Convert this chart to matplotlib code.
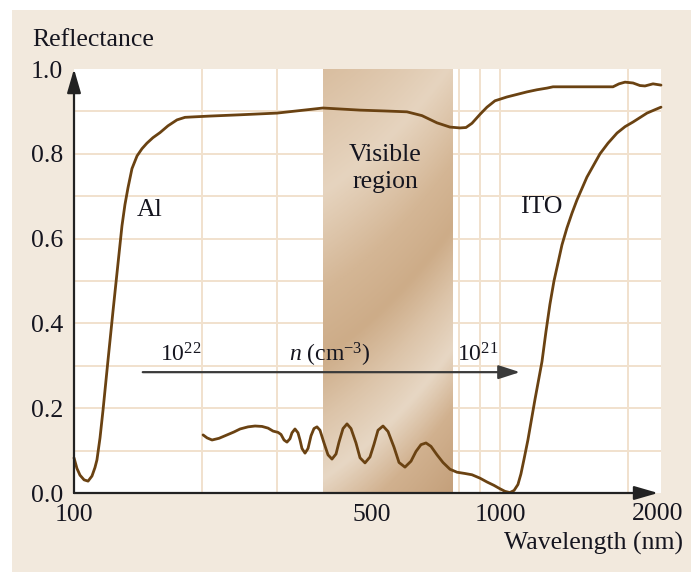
import numpy as np
import matplotlib
matplotlib.use('Agg')
import matplotlib.pyplot as plt
from matplotlib.colors import LinearSegmentedColormap
from matplotlib.patches import Rectangle
from matplotlib.ticker import NullLocator

# Reflectance of an Al mirror and an ITO film vs wavelength (nm)
al_wl = [100, 101.6, 103.3, 105.6, 107.9, 110.2, 112.0, 113.2, 115.1, 117.0,
         120.2, 123.5, 126.2, 129.6, 131.7, 133.9, 136.8, 140.6, 144.4, 148.3,
         153.2, 159.2, 166.2, 174.5, 182.2, 190.3, 208.6, 245.4, 299.6, 339.3,
         384.1, 469.3, 537.2, 604.8, 656.1, 711.5, 763.2, 805.6, 832.2, 859.6,
         897.6, 932.2, 973.3, 1038, 1096, 1157, 1221, 1290, 1332, 1541,
         1842, 1903, 1966, 2053, 2131, 2190, 2287, 2388]
al_r = [0.083, 0.058, 0.042, 0.031, 0.028, 0.040, 0.060, 0.078, 0.130, 0.196,
        0.314, 0.430, 0.520, 0.630, 0.680, 0.720, 0.765, 0.795, 0.812, 0.825,
        0.838, 0.850, 0.866, 0.880, 0.886, 0.887, 0.889, 0.892, 0.896, 0.902,
        0.908, 0.903, 0.901, 0.899, 0.890, 0.873, 0.863, 0.861, 0.862, 0.872,
        0.893, 0.910, 0.925, 0.934, 0.940, 0.946, 0.951, 0.955, 0.958, 0.958,
        0.958, 0.965, 0.969, 0.967, 0.961, 0.960, 0.965, 0.962]

ito_wl = [200.9, 205.3, 210.9, 219.0, 228.7, 237.5, 245.4, 256.2, 266.1, 276.3,
          285.5, 293.3, 301.3, 306.2, 311.2, 316.2, 321.4, 324.9, 330.2, 335.6,
          339.3, 342.9, 348.6, 354.3, 360.1, 365.9, 371.9, 378.0, 386.3, 394.7,
          403.3, 412.2, 418.9, 428.1, 437.4, 447.0, 459.2, 469.3, 482.1, 495.3,
          506.2, 517.2, 531.4, 546.0, 564.0, 579.4, 598.4, 618.2, 635.1, 652.5,
          670.4, 688.7, 711.5, 734.9, 763.2, 792.7, 827.7, 859.6, 897.6, 932.2,
          968.1, 1000, 1027, 1055, 1079, 1102, 1120, 1139, 1163, 1208,
          1255, 1282, 1310, 1339, 1368, 1398, 1436, 1476, 1516, 1600,
          1717, 1793, 1883, 1966, 2053, 2214, 2311, 2388]
ito_r = [0.137, 0.130, 0.125, 0.129, 0.137, 0.144, 0.151, 0.156, 0.158, 0.157,
         0.153, 0.146, 0.143, 0.138, 0.125, 0.120, 0.128, 0.142, 0.151, 0.142,
         0.125, 0.105, 0.094, 0.105, 0.135, 0.152, 0.156, 0.148, 0.118, 0.090,
         0.080, 0.092, 0.120, 0.152, 0.163, 0.152, 0.118, 0.083, 0.071, 0.085,
         0.115, 0.148, 0.158, 0.145, 0.108, 0.072, 0.061, 0.075, 0.098, 0.114,
         0.118, 0.110, 0.090, 0.072, 0.056, 0.049, 0.046, 0.043, 0.035, 0.026,
         0.018, 0.010, 0.004, 0.001, 0.006, 0.020, 0.045, 0.080, 0.125, 0.220,
         0.310, 0.380, 0.445, 0.500, 0.542, 0.585, 0.625, 0.660, 0.691, 0.745,
         0.800, 0.825, 0.849, 0.864, 0.875, 0.896, 0.904, 0.910]

y_ticks = [0.0, 0.2, 0.4, 0.6, 0.8, 1.0]
y_tick_labels = ['0.0', '0.2', '0.4', '0.6', '0.8', '1.0']
x_ticks = [100, 500, 1000]
x_tick_labels = ['100', '500', '1000']
x_end_tick = 2000
grid_wl = [200, 300, 400, 500, 600, 700, 800, 900, 1000, 2000]
grid_r = [0.1, 0.2, 0.3, 0.4, 0.5, 0.6, 0.7, 0.8, 0.9]
visible_band = (384, 776)
carrier_span = (145, 1114)
carrier_level = 0.285

BROWN = '#6a4212'
BEIGE = '#f2e9dd'
GRID = '#f1e1cd'
INK = '#15151f'

plt.rcParams.update({
    'font.family': 'Liberation Serif', 'font.size': 18.5,
    'mathtext.fontset': 'custom', 'mathtext.rm': 'Liberation Serif',
    'mathtext.it': 'Liberation Serif:italic',
    'text.color': INK, 'xtick.color': INK, 'ytick.color': INK,
})

W, H = 691, 572
fig = plt.figure(figsize=(W / 100, H / 100), dpi=100)
fig.patch.set_facecolor('white')
fig.add_artist(Rectangle((12 / W, 0), 1 - 12 / W, 1 - 10 / H, transform=fig.transFigure,
                         facecolor=BEIGE, edgecolor='none', zorder=-5))

ax = fig.add_axes([74 / W, 79 / H, 587 / W, 424 / H])
ax.set_facecolor('white')
ax.set_xscale('log')

# grid
for wl in grid_wl:
    ax.axvline(wl, color=GRID, lw=1.4, zorder=1)
for r in grid_r:
    ax.axhline(r, color=GRID, lw=1.4, zorder=1)

# visible band with a soft diagonal sheen
band_cmap = LinearSegmentedColormap.from_list('band', [
    (0.0, '#d9bea0'), (0.22, '#e6d4bf'), (0.40, '#d4b695'), (0.52, '#cdac88'),
    (0.63, '#dcc4a9'), (0.74, '#e7d7c4'), (0.85, '#d1b18f'), (1.0, '#c4a07b')])
u = np.linspace(0, 1, 80)[None, :]
v = np.linspace(0, 1, 260)[:, None]
sheen = (u * 130 + v * 424) / 554
ax.imshow(sheen, cmap=band_cmap, extent=[visible_band[0], visible_band[1], 0, 1],
          origin='upper', aspect='auto', interpolation='bilinear', zorder=2)

ax.plot(al_wl, al_r, color=BROWN, lw=2.0, zorder=4, clip_on=False,
        solid_joinstyle='round', solid_capstyle='round')
ax.plot(ito_wl, ito_r, color=BROWN, lw=2.0, zorder=4, clip_on=False,
        solid_joinstyle='round', solid_capstyle='round')

ax.set_xlim(100, 2388)
ax.set_ylim(0, 1)

ax.set_yticks(y_ticks, y_tick_labels)
ax.set_xticks(x_ticks, x_tick_labels)
ax.xaxis.set_minor_locator(NullLocator())
ax.tick_params(axis='y', length=0, pad=8)
ax.tick_params(axis='x', length=0, pad=8)
ax.annotate(str(x_end_tick), xy=(x_end_tick, 0), xycoords=('data', 'axes fraction'),
            xytext=(21.5, -15), textcoords='offset points', ha='center', va='center')
for s in ax.spines.values():
    s.set_visible(False)

# axes drawn as arrows
axis_arrow = dict(arrowstyle='-|>,head_length=1.45,head_width=0.42', color='#222222',
                  lw=1.6, mutation_scale=10, shrinkA=0, shrinkB=0)
ax.annotate('', xy=(0, 1.0), xytext=(0, 0), xycoords='axes fraction', arrowprops=axis_arrow, zorder=6)
ax.annotate('', xy=(0.995, 0), xytext=(0, 0), xycoords='axes fraction', arrowprops=axis_arrow, zorder=6)

# carrier density arrow
ax.annotate('', xy=(carrier_span[1], carrier_level), xytext=(carrier_span[0], carrier_level),
            arrowprops=dict(arrowstyle='-|>,head_length=1.3,head_width=0.42', color='#3a3a3a',
                            lw=1.6, mutation_scale=10, shrinkA=0, shrinkB=0), zorder=5)
ax.text(178, 0.311, '10$^{22}$', fontsize=17, ha='center', va='baseline', zorder=6)
ax.text(399, 0.311, '$n$ (cm$^{-3}$)', fontsize=17, ha='center', va='baseline', zorder=6)
ax.text(888, 0.311, '10$^{21}$', fontsize=17, ha='center', va='baseline', zorder=6)

ax.text(140.6, 0.667, 'Al', ha='left', va='center', zorder=6)
ax.text(1114, 0.675, 'ITO', ha='left', va='center', zorder=6)
ax.text(537, 0.797, 'Visible', ha='center', va='center', zorder=6)
ax.text(537, 0.733, 'region', ha='center', va='center', zorder=6)

fig.text(32 / W, 1 - 40 / H, 'Reflectance', ha='left', va='center')
fig.text(683 / W, 1 - 543 / H, 'Wavelength (nm)', ha='right', va='center')

fig.savefig('out.png', dpi=100)
